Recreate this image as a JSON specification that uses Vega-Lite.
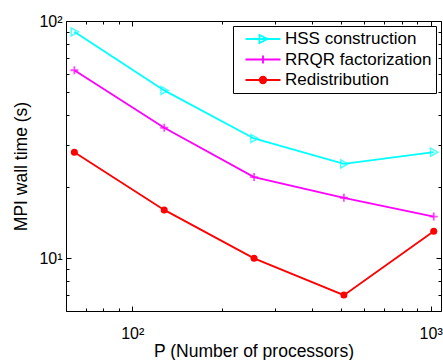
{
  "$schema": "https://vega.github.io/schema/vega-lite/v6.json",
  "autosize": "none",
  "width": 375,
  "height": 290,
  "padding": {"left": 66, "top": 21, "right": 2, "bottom": 49},
  "background": "white",
  "config": {
    "font": "Liberation Sans",
    "view": {"stroke": "black", "strokeWidth": 1},
    "axis": {"domain": false, "grid": false, "tickColor": "black", "labelColor": "black", "titleColor": "black", "labelFont": "Liberation Sans", "titleFont": "Liberation Sans", "titleFontWeight": "normal", "labelFontSize": 16, "titleFontSize": 17.5}
  },
  "data": {"values": [
    {"P": 64, "t": 90, "s": "HSS construction"},
    {"P": 128, "t": 51, "s": "HSS construction"},
    {"P": 256, "t": 32, "s": "HSS construction"},
    {"P": 512, "t": 25, "s": "HSS construction"},
    {"P": 1024, "t": 28, "s": "HSS construction"},
    {"P": 64, "t": 62, "s": "RRQR factorization"},
    {"P": 128, "t": 35.5, "s": "RRQR factorization"},
    {"P": 256, "t": 22, "s": "RRQR factorization"},
    {"P": 512, "t": 18, "s": "RRQR factorization"},
    {"P": 1024, "t": 15, "s": "RRQR factorization"},
    {"P": 64, "t": 28, "s": "Redistribution"},
    {"P": 128, "t": 16, "s": "Redistribution"},
    {"P": 256, "t": 10, "s": "Redistribution"},
    {"P": 512, "t": 7, "s": "Redistribution"},
    {"P": 1024, "t": 13, "s": "Redistribution"}
  ]},
  "resolve": {"axis": {"x": "independent", "y": "independent"}},
  "layer": [
    {
      "mark": {"type": "line", "strokeWidth": 1.8, "clip": true},
      "encoding": {
        "x": {"field": "P", "type": "quantitative", "scale": {"type": "log", "domain": [60, 1083], "nice": false},
              "axis": {"orient": "bottom", "values": [100, 1000], "tickSize": -5, "labelPadding": 19, "labelExpr": "datum.value == 100 ? '10²' : '10³'", "title": "P (Number of processors)", "titlePadding": 1}},
        "y": {"field": "t", "type": "quantitative", "scale": {"type": "log", "domain": [6, 100], "nice": false},
              "axis": {"orient": "left", "values": [10, 100], "tickSize": -5, "labelPadding": 9, "labelExpr": "datum.value == 100 ? '10²' : '10¹'", "title": "MPI wall time (s)", "titlePadding": 8}},
        "color": {"field": "s", "type": "nominal", "scale": {"domain": ["HSS construction", "RRQR factorization", "Redistribution"], "range": ["#00ffff", "#ff00ff", "#ff0000"]},
          "legend": {"orient": "top-right", "offset": 5, "title": null, "strokeColor": "black", "fillColor": "white", "padding": 4.5, "labelFontSize": 17, "labelFont": "Liberation Sans", "labelColor": "black", "symbolSize": 100, "symbolStrokeWidth": 1.8, "symbolOffset": 17, "labelOffset": 13.5, "rowPadding": 2.5,
            "encoding": {"symbols": {
              "shape": {"value": {"signal": "datum.value === 'HSS construction' ? 'M-3.5,0L3.5,0M-0.7,-0.8L0.9,0L-0.7,0.8Z' : datum.value === 'RRQR factorization' ? 'M-3.5,0L3.5,0M0,-0.8L0,0.8' : 'M-3.5,0L3.5,0M0.65,0A0.65,0.65,0,1,1,-0.65,0A0.65,0.65,0,1,1,0.65,0Z'"}},
              "fill": {"value": {"signal": "datum.value === 'Redistribution' ? '#ff0000' : 'transparent'"}},
              "size": {"value": 100}
            }}}}
      }
    },
    {
      "transform": [{"filter": "datum.s === 'HSS construction'"}],
      "mark": {"type": "point", "filled": false, "strokeWidth": 1.5, "shape": "M-0.8,-1L1,0L-0.8,1Z", "size": 64, "color": "#00ffff"},
      "encoding": {
        "x": {"field": "P", "type": "quantitative", "axis": {"orient": "bottom", "values": [60, 70, 80, 90, 200, 300, 400, 500, 600, 700, 800, 900], "tickSize": -3, "labels": false, "title": null}},
        "y": {"field": "t", "type": "quantitative", "axis": {"orient": "left", "values": [6, 7, 8, 9, 20, 30, 40, 50, 60, 70, 80, 90], "tickSize": -3, "labels": false, "title": null}}
      }
    },
    {
      "transform": [{"filter": "datum.s === 'RRQR factorization'"}],
      "mark": {"type": "point", "filled": false, "strokeWidth": 1.8, "shape": "M-1,0L1,0M0,-1L0,1", "size": 64, "color": "#ff00ff"},
      "encoding": {
        "x": {"field": "P", "type": "quantitative", "axis": null},
        "y": {"field": "t", "type": "quantitative", "axis": null}
      }
    },
    {
      "transform": [{"filter": "datum.s === 'Redistribution'"}],
      "mark": {"type": "point", "filled": true, "opacity": 1, "shape": "circle", "size": 49, "color": "#ff0000"},
      "encoding": {
        "x": {"field": "P", "type": "quantitative", "axis": null},
        "y": {"field": "t", "type": "quantitative", "axis": null}
      }
    },
    {
      "mark": {"type": "point", "opacity": 0},
      "encoding": {
        "x": {"field": "P", "type": "quantitative", "axis": {"orient": "top", "values": [100, 1000], "tickSize": -5, "labels": false, "title": null}},
        "y": {"field": "t", "type": "quantitative", "axis": {"orient": "right", "values": [10, 100], "tickSize": -5, "labels": false, "title": null}}
      }
    },
    {
      "mark": {"type": "point", "opacity": 0},
      "encoding": {
        "x": {"field": "P", "type": "quantitative", "axis": {"orient": "top", "values": [60, 70, 80, 90, 200, 300, 400, 500, 600, 700, 800, 900], "tickSize": -3, "labels": false, "title": null}},
        "y": {"field": "t", "type": "quantitative", "axis": {"orient": "right", "values": [6, 7, 8, 9, 20, 30, 40, 50, 60, 70, 80, 90], "tickSize": -3, "labels": false, "title": null}}
      }
    }
  ]
}
